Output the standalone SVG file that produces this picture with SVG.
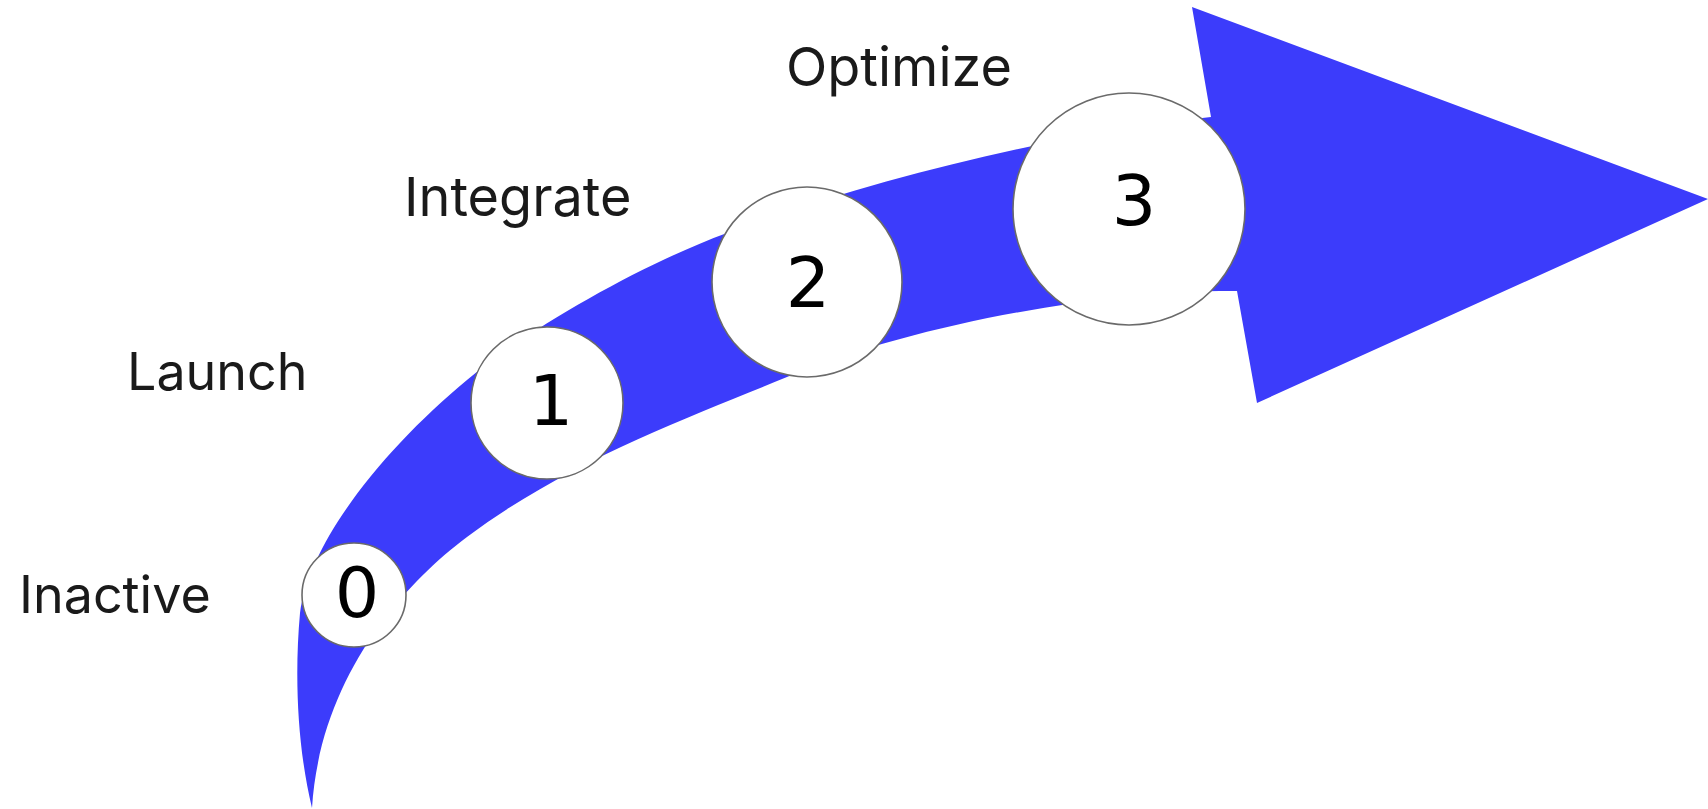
<svg xmlns="http://www.w3.org/2000/svg" width="1708" height="809" viewBox="0 0 1708 809">
<style>
.band{fill:#3c3cfb;stroke:none}
.node circle{fill:#ffffff;stroke:#6a6a6a;stroke-width:1.6}
.digit{font-family:"DejaVu Sans","Liberation Sans",sans-serif;font-size:70px;fill:#000;text-anchor:middle}
.label{font-family:Inter,"Noto Sans","Liberation Sans",sans-serif;font-size:52px;fill:#1a1a1a}
.big{font-size:54px}
</style>
<rect width="1708" height="809" fill="#ffffff"/>
<g id="connectors">
<path class="band" d="M312,808 C298,750 294,680 300,613 C310,540 385,448 467,380 C530,328 640,265 727,233 C870,180 1050,135 1211,117 L1192,7 L1708,199 L1257,403 L1237,291 C1110,290 920,322 787,377 C690,417 570,460 467,537 C400,587 320,680 312,808 Z"/>
</g>
<g id="node0" class="node"><circle cx="354" cy="595" r="52"/><text class="digit" x="357" y="617">0</text></g>
<g id="node1" class="node"><circle cx="547" cy="403" r="76"/><text class="digit" x="551" y="425">1</text></g>
<g id="node2" class="node"><circle cx="807" cy="282" r="95"/><text class="digit" x="808" y="307">2</text></g>
<g id="node3" class="node"><circle cx="1129" cy="209" r="116"/><text class="digit" x="1134" y="225">3</text></g>
<g id="labels">
<text class="label" x="19" y="613">Inactive</text>
<text class="label" x="127" y="390">Launch</text>
<text class="label big" x="404" y="216">Integrate</text>
<text class="label big" x="786" y="86">Optimize</text>
</g>
</svg>
